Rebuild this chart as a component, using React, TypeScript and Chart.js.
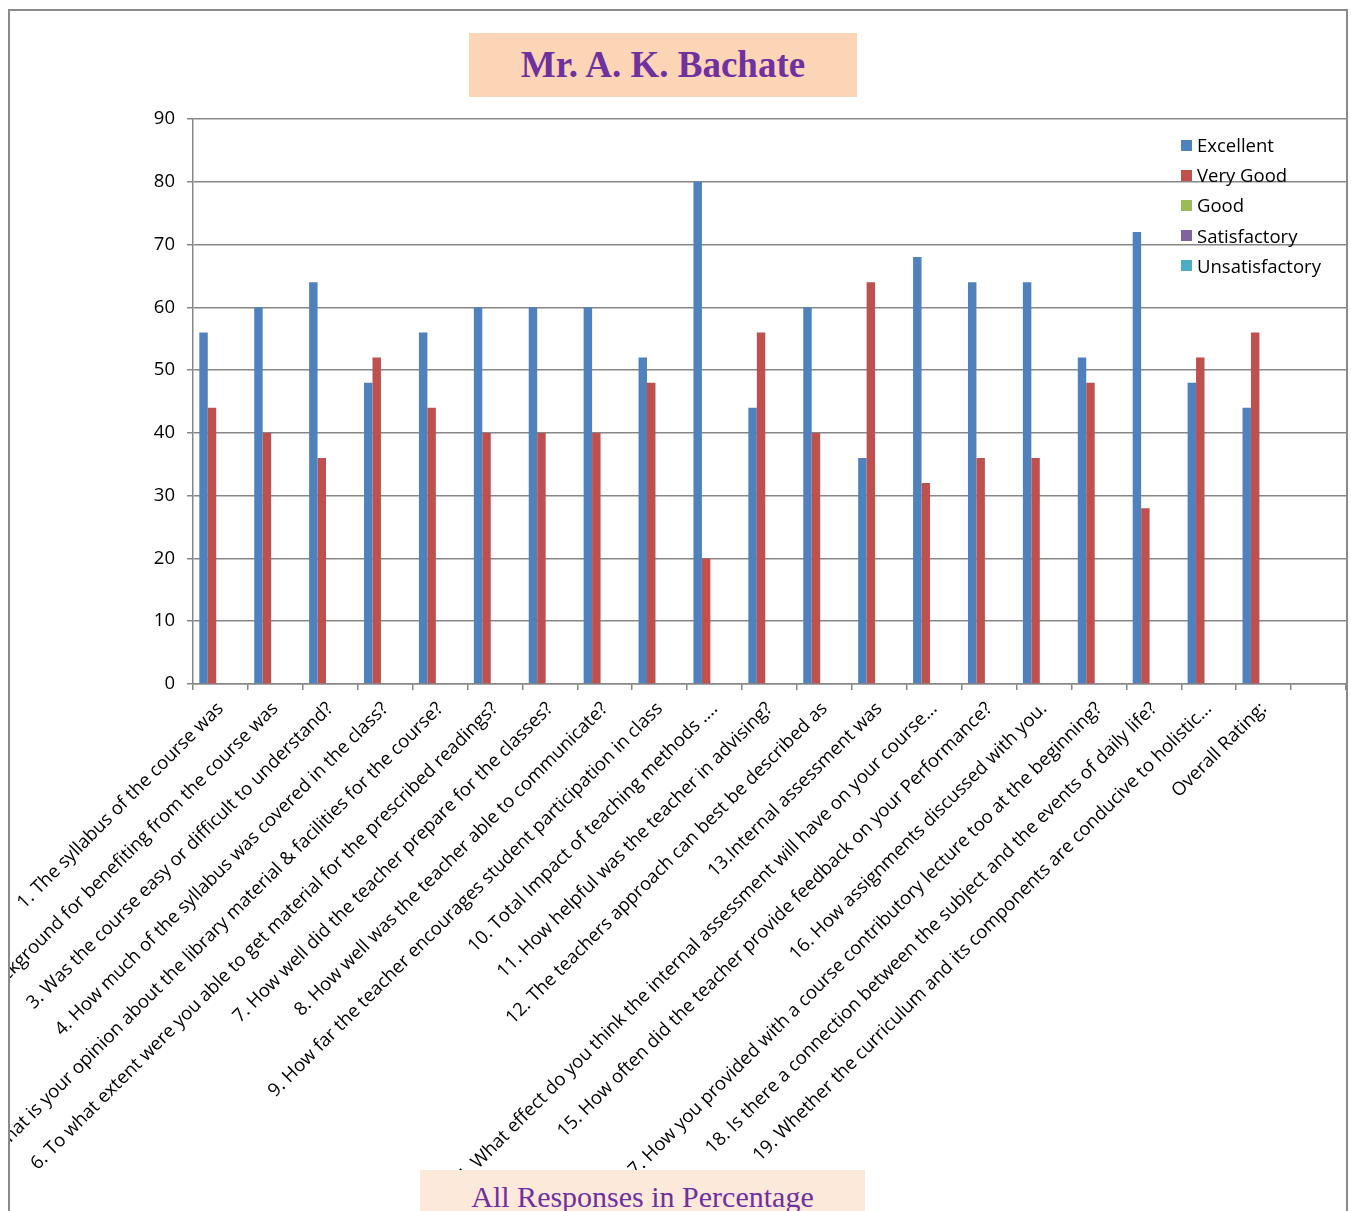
import React, { useEffect, useRef } from "react";
import { Chart, registerables } from "chart.js";

Chart.register(...registerables);

const categories: string[] = [
  "1. The syllabus of the course was",
  "2. Your background for benefiting from the course was",
  "3. Was the course easy or difficult to understand?",
  "4. How much of the syllabus was covered in the class?",
  "5. What is your opinion about the library material & facilities for the course?",
  "6. To what extent were you able to get material for the prescribed readings?",
  "7. How well did the teacher prepare for the classes?",
  "8. How well was the teacher able to communicate?",
  "9. How far the teacher encourages student participation in class",
  "10. Total Impact of teaching methods ....",
  "11. How helpful was the teacher in advising?",
  "12. The teachers approach can best be described as",
  "13.Internal assessment was",
  "14. What effect do you think the internal assessment will have on your course...",
  "15. How often did the teacher provide feedback on your Performance?",
  "16. How assignments discussed with you.",
  "17. How you provided with a course contributory lecture too at the beginning?",
  "18. Is there a connection between the subject and the events of daily life?",
  "19. Whether the curriculum and its components are conducive to holistic...",
  "Overall Rating:",
  "",
];

const excellent: (number | null)[] = [56, 60, 64, 48, 56, 60, 60, 60, 52, 80, 44, 60, 36, 68, 64, 64, 52, 72, 48, 44, null];
const veryGood: (number | null)[] = [44, 40, 36, 52, 44, 40, 40, 40, 48, 20, 56, 40, 64, 32, 36, 36, 48, 28, 52, 56, null];
const good: (number | null)[] = [0, 0, 0, 0, 0, 0, 0, 0, 0, 0, 0, 0, 0, 0, 0, 0, 0, 0, 0, 0, null];
const satisfactory: (number | null)[] = [0, 0, 0, 0, 0, 0, 0, 0, 0, 0, 0, 0, 0, 0, 0, 0, 0, 0, 0, 0, null];
const unsatisfactory: (number | null)[] = [0, 0, 0, 0, 0, 0, 0, 0, 0, 0, 0, 0, 0, 0, 0, 0, 0, 0, 0, 0, null];

const seriesNames = ["Excellent", "Very Good", "Good", "Satisfactory", "Unsatisfactory"];
const seriesColors = ["#4F81BD", "#C0504D", "#9BBB59", "#8064A2", "#4BACC6"];

const yMin = 0;
const yMax = 90;
const yStep = 10;

const titleText = "Mr. A. K. Bachate";
const footerText = "All Responses in Percentage";

export default function App() {
  const canvasRef = useRef<HTMLCanvasElement>(null);

  useEffect(() => {
    document.body.style.margin = "8px 0 0 8px";
    const seriesData = [excellent, veryGood, good, satisfactory, unsatisfactory];
    const gridColor = "#878787";
    const tickFont = { family: "'Open Sans', sans-serif", size: 18.5 };
    const chart = new Chart(canvasRef.current as HTMLCanvasElement, {
      type: "bar",
      data: {
        labels: categories,
        datasets: seriesData.map((d, i) => ({
          label: seriesNames[i],
          data: d,
          backgroundColor: seriesColors[i],
          borderWidth: 0,
          categoryPercentage: 0.77,
          barPercentage: 1,
        })),
      },
      options: {
        animation: false,
        responsive: false,
        maintainAspectRatio: false,
        layout: { padding: { top: 108, left: 0, right: 0, bottom: 0 } },
        plugins: {
          legend: { display: false },
          title: { display: false },
          tooltip: { enabled: false },
        },
        scales: {
          x: {
            grid: {
              display: true,
              drawOnChartArea: false,
              drawTicks: true,
              tickLength: 6,
              color: gridColor,
              lineWidth: 1.5,
              offset: true,
            },
            border: { color: gridColor, width: 1.5 },
            ticks: {
              autoSkip: false,
              maxRotation: 45,
              minRotation: 45,
              font: tickFont,
              color: "#000",
              padding: 8,
            },
            afterFit: (s: any) => {
              s.height = 527;
              s.paddingLeft = 0;
              s.paddingRight = 0;
            },
          },
          y: {
            min: yMin,
            max: yMax,
            ticks: { stepSize: yStep, font: tickFont, color: "#000", padding: 12 },
            grid: { color: gridColor, lineWidth: 1.5, tickLength: 6 },
            border: { color: gridColor, width: 1.5 },
            afterFit: (s: any) => {
              s.width = 183;
            },
          },
        },
      },
    });
    return () => chart.destroy();
  }, []);

  return (
    <div
      style={{
        position: "relative",
        width: 1340,
        height: 1202,
        marginTop: 1,
        boxSizing: "border-box",
        borderTop: "2px solid #8a8a8a",
        borderLeft: "2px solid #8a8a8a",
        borderRight: "2px solid #8a8a8a",
        overflow: "hidden",
      }}
    >
      <canvas
        ref={canvasRef}
        width={1336}
        height={1200}
        style={{ position: "absolute", left: 0, top: 0, display: "block" }}
      />
      <div
        style={{
          position: "absolute",
          left: 459,
          top: 22,
          width: 388,
          height: 64,
          background: "#FBD5B5",
          color: "#7030A0",
          fontFamily: "'Liberation Serif', serif",
          fontWeight: "bold",
          fontSize: 37,
          lineHeight: "64px",
          textAlign: "center",
        }}
      >
        {titleText}
      </div>
      <div
        style={{
          position: "absolute",
          left: 1171,
          top: 123,
          fontFamily: "'Open Sans', sans-serif",
          fontSize: 18.5,
          color: "#000",
        }}
      >
        {seriesNames.map((n, i) => (
          <div
            key={n}
            style={{
              position: "absolute",
              left: 0,
              top: i * 30.2,
              height: 22,
              display: "flex",
              alignItems: "center",
              whiteSpace: "nowrap",
            }}
          >
            <span
              style={{
                display: "inline-block",
                width: 11,
                height: 11,
                background: seriesColors[i],
                marginRight: 5,
              }}
            />
            <span style={{ lineHeight: "22px" }}>{n}</span>
          </div>
        ))}
      </div>
      <div
        style={{
          position: "absolute",
          left: 410,
          top: 1159,
          width: 445,
          height: 60,
          boxSizing: "border-box",
          paddingTop: 12,
          background: "#FDE9D9",
          color: "#7030A0",
          fontFamily: "'Liberation Serif', serif",
          fontSize: 30,
          lineHeight: "30px",
          textAlign: "center",
        }}
      >
        {footerText}
      </div>
    </div>
  );
}
